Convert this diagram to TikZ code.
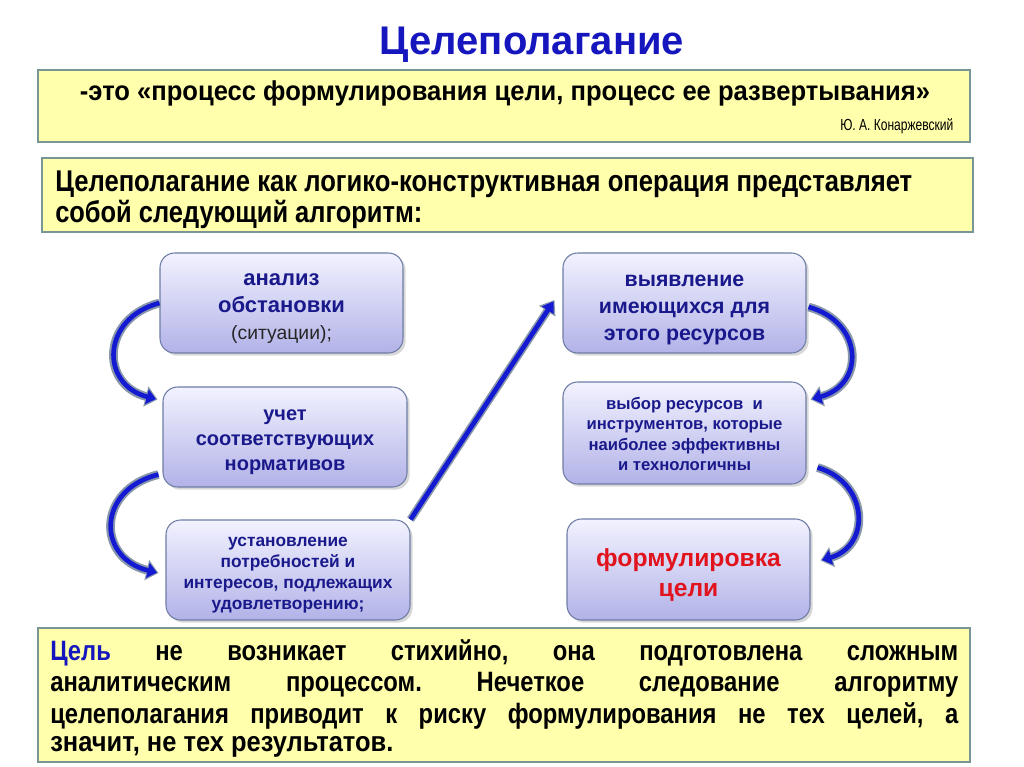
\documentclass[tikz,border=0pt]{standalone}
\usepackage{fontspec}
\setmainfont{Liberation Sans}
\newfontfamily\narrow[FakeStretch=0.85]{Liberation Sans}
\usetikzlibrary{arrows.meta,shadows,calc}
\definecolor{ttl}{RGB}{22,22,190}
\definecolor{ylw}{RGB}{255,255,172}
\definecolor{ybrd}{RGB}{120,150,150}
\definecolor{navy}{RGB}{25,25,140}
\definecolor{boxtop}{RGB}{242,242,255}
\definecolor{boxbot}{RGB}{178,178,232}
\definecolor{boxbrd}{RGB}{110,125,165}
\definecolor{redt}{RGB}{225,20,30}
\definecolor{arrblue}{RGB}{20,25,210}
\definecolor{arrgray}{RGB}{135,150,170}
\newcommand\fitw[2]{\resizebox{#1}{\height}{#2}}
\frenchspacing
\begin{document}
\begin{tikzpicture}[x=0.75pt,y=-0.75pt,
  sz/.style 2 args={minimum width={#1*0.75pt}, minimum height={#2*0.75pt}},
  ybox/.style={draw=ybrd, line width=1pt, fill=ylw},
  stepbox/.style={rounded corners=11pt, draw=boxbrd, line width=0.8pt,
    top color=boxtop, bottom color=boxbot,
    drop shadow={opacity=0.3, shadow xshift=2pt, shadow yshift=-2pt},
    inner sep=0pt},
  steptxt/.style={align=center, inner sep=0pt, text=navy},
  arrback/.style={line width=6.5pt, draw=arrgray, -{Triangle[length=9pt,width=15pt]}},
  arrfront/.style={line width=3.5pt, draw=arrblue, -{Triangle[length=7pt,width=11pt]}, shorten >=1.2pt},
  diagback/.style={line width=6pt, draw=arrgray, -{Triangle[length=10pt,width=14pt]}},
  diagfront/.style={line width=3.5pt, draw=arrblue, -{Triangle[length=8pt,width=10pt]}, shorten >=1.2pt},
  btxt/.style={anchor=west, inner sep=0pt, font=\narrow\bfseries\fontsize{21}{24}\selectfont}]
\useasboundingbox (0,0) rectangle (1024,767);
\fill[white] (0,0) rectangle (1024,767);

% title
\node[font=\bfseries\fontsize{30}{34}\selectfont, text=ttl] (title) at (532,45) {Целеполагание};

% yellow boxes
\draw[ybox] (38,70) rectangle (970,142);
\draw[ybox] (42,158) rectangle (973,232);
\draw[ybox] (38,628) rectangle (970,762);

\node (quote) at (505,93) {\fitw{637.5pt}{\narrow\bfseries\fontsize{20.5}{24}\selectfont -это «процесс формулирования цели, процесс ее развертывания»}};
\node[anchor=east] (author) at (958,126) {\fitw{84.75pt}{\narrow\fontsize{12}{14}\selectfont Ю. А. Конаржевский}};

\node[anchor=west, inner sep=0pt] (alg1) at (55,184) {\fitw{642.75pt}{\narrow\bfseries\fontsize{22.5}{26}\selectfont Целеполагание как логико-конструктивная операция представляет}};
\node[anchor=west, inner sep=0pt] (alg2) at (55,214) {\fitw{275.25pt}{\narrow\bfseries\fontsize{22.5}{26}\selectfont собой следующий алгоритм:}};

% bottom text
\node[btxt] (b1) at (50,653) {\makebox[681pt][s]{{\color{ttl}Цель} не возникает стихийно, она подготовлена сложным}};
\node[btxt] (b2) at (50,685) {\makebox[681pt][s]{аналитическим процессом. Нечеткое следование алгоритму}};
\node[btxt] (b3) at (50,716) {\makebox[681pt][s]{целеполагания приводит к риску формулирования не тех целей, а}};
\node[btxt] (b4) at (50,747) {\fitw{257.25pt}{значит, не тех результатов.}};

% step boxes
\node[stepbox, sz={243}{100}] (A) at (281.5,303) {};
\node[stepbox, sz={244}{100}] (B) at (285,437) {};
\node[stepbox, sz={244}{100}] (C) at (288,570) {};
\node[stepbox, sz={243}{100}] (D) at (684.5,303) {};
\node[stepbox, sz={243}{102}] (E) at (684.5,433) {};
\node[stepbox, sz={243}{101}] (F) at (688.5,569.5) {};

\node[steptxt, font=\bfseries\fontsize{16.5}{20.25}\selectfont] (At) at ($(A.center)+(0,6)$) {анализ\\обстановки\\{\mdseries\color{black!85}\fontsize{14.5}{20}\selectfont (ситуации);}};
\node[steptxt, font=\bfseries\fontsize{15}{18.75}\selectfont] (Bx) at ($(B.center)+(0,5)$) {учет\\соответствующих\\нормативов};
\node[steptxt, font=\bfseries\fontsize{13}{15.75}\selectfont] (Cx) at ($(C.center)+(0,5)$) {установление\\потребностей и\\интересов, подлежащих\\удовлетворению;};
\node[steptxt, font=\bfseries\fontsize{16}{20.25}\selectfont] (Dx) at ($(D.center)+(0,7)$) {выявление\\имеющихся для\\этого ресурсов};
\node[steptxt, font=\bfseries\fontsize{12.5}{15.4}\selectfont] (Ex) at ($(E.center)+(0,1)$) {выбор ресурсов\ \ и\\инструментов, которые\\наиболее эффективны\\и технологичны};
\node[steptxt, text=redt, font=\bfseries\fontsize{18.5}{22.5}\selectfont] (Fx) at ($(F.center)+(0,6)$) {формулировка\\цели};

% arrow end points
\coordinate (Bt) at ($(B.north west)+(-5,13)$);
\coordinate (Bs) at ($(B.south west)+(-4,-13)$);
\coordinate (Cw) at ($(C.west)+(-7,3)$);
\coordinate (Ds) at ($(D.east)+(2,4)$);
\coordinate (Et) at ($(E.north east)+(4,18)$);
\coordinate (Es) at ($(E.south east)+(11,-17)$);
\coordinate (Fw) at ($(F.east)+(10,-9)$);
\coordinate (Dw) at ($(D.west)+(-8,-3)$);

% curved arrows
\foreach \s in {arrback,arrfront}{
  \draw[\s] (A.west) .. controls +(-58,15) and +(-58,-15) .. (Bt);
  \draw[\s] (Bs) .. controls +(-62,15) and +(-62,-15) .. (Cw);
  \draw[\s] (Ds) .. controls +(55,15) and +(55,-15) .. (Et);
  \draw[\s] (Es) .. controls +(51,15) and +(51,-15) .. (Fw);
}
% diagonal arrow
\draw[diagback] (C.north east) -- (Dw);
\draw[diagfront] (C.north east) -- (Dw);
\end{tikzpicture}
\end{document}
